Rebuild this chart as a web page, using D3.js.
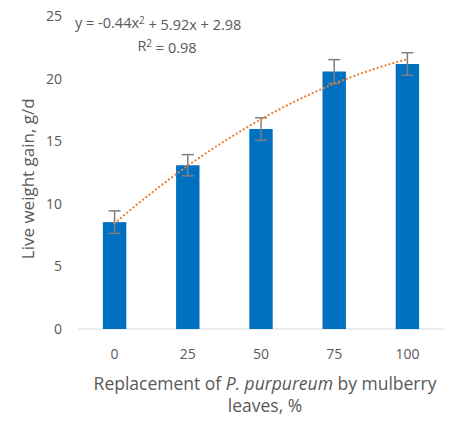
<!DOCTYPE html>
<html>
<head>
<meta charset="utf-8">
<script src="https://cdn.jsdelivr.net/npm/d3@7"></script>
<style>
  body { margin: 0; background: #fff; }
  text { font-family: "Open Sans", Lato, sans-serif; fill: #595959; }
</style>
</head>
<body>
<script>
(function(){

    //chart data
    var categories = ["0", "25", "50", "75", "100"];
    var gainValues = [8.55, 13.1, 16.0, 20.6, 21.2];
    var gainErrors = [0.9, 0.85, 0.9, 0.95, 0.9];
    var yTicks = [0, 5, 10, 15, 20, 25];
    //polynomial trendline coefficients shown on the chart (a*x^2 + b*x + c)
    var trendCoef = [-0.44, 5.92, 2.98];

    var width = 452, height = 421;
    var margin = {top: 16, right: 8, bottom: 92, left: 78};

    var svg = d3.select("body")
        .append("svg")
        .attr("width", width)
        .attr("height", height);

    //scales
    var x = d3.scaleBand()
        .domain(categories)
        .range([margin.left, width - margin.right])
        .paddingInner(0.68)
        .paddingOuter(0.34);

    var y = d3.scaleLinear()
        .domain([0, 25])
        .range([height - margin.bottom, margin.top + 0.5]);

    //bottom axis line
    svg.append("line")
        .attr("x1", margin.left)
        .attr("x2", width - margin.right)
        .attr("y1", y(0))
        .attr("y2", y(0))
        .attr("stroke", "#d9d9d9")
        .attr("stroke-width", 1.2);

    //bars
    svg.selectAll(".bar")
        .data(gainValues)
        .enter()
        .append("rect")
        .attr("class", "bar")
        .attr("x", function(d, i){ return x(categories[i]); })
        .attr("width", x.bandwidth())
        .attr("y", function(d){ return y(d); })
        .attr("height", function(d){ return y(0) - y(d); })
        .attr("fill", "#0070c0");

    //error bars
    var errG = svg.append("g")
        .attr("stroke", "#7f7f7f")
        .attr("stroke-width", 1.5);

    gainValues.forEach(function(v, i){
        var cx = x(categories[i]) + x.bandwidth() / 2;
        var e = gainErrors[i];
        errG.append("line")
            .attr("x1", cx).attr("x2", cx)
            .attr("y1", y(v + e)).attr("y2", y(v - e));
        [v + e, v - e].forEach(function(t){
            errG.append("line")
                .attr("x1", cx - 6).attr("x2", cx + 6)
                .attr("y1", y(t)).attr("y2", y(t));
        });
    });

    //trendline, sampled between first and last category
    var trendPts = d3.range(1, 5.001, 0.05).map(function(t){
        var val = trendCoef[0] * t * t + trendCoef[1] * t + trendCoef[2];
        var px = x(categories[0]) + x.bandwidth() / 2 + (t - 1) * x.step();
        return [px, y(val)];
    });

    svg.append("path")
        .datum(trendPts)
        .attr("d", d3.line())
        .attr("fill", "none")
        .attr("stroke", "#ed7d31")
        .attr("stroke-width", 2.2)
        .attr("stroke-linecap", "round")
        .attr("stroke-dasharray", "0.1 4");

    //y tick labels
    svg.selectAll(".ytick")
        .data(yTicks)
        .enter()
        .append("text")
        .attr("class", "ytick")
        .attr("x", 62)
        .attr("y", function(d){ return y(d); })
        .attr("dy", "0.35em")
        .attr("text-anchor", "end")
        .style("font-size", "14px")
        .text(function(d){ return d; });

    //x tick labels
    svg.selectAll(".xtick")
        .data(categories)
        .enter()
        .append("text")
        .attr("class", "xtick")
        .attr("x", function(d){ return x(d) + x.bandwidth() / 2; })
        .attr("y", 354)
        .attr("dy", "0.35em")
        .attr("text-anchor", "middle")
        .style("font-size", "14px")
        .text(function(d){ return d; });

    //x axis title
    var xt = svg.append("text")
        .attr("x", 265)
        .attr("y", 384)
        .attr("dy", "0.35em")
        .attr("text-anchor", "middle")
        .style("font-size", "17.5px");
    xt.append("tspan").text("Replacement of ");
    xt.append("tspan").style("font-style", "italic").text("P. purpureum");
    xt.append("tspan").text(" by mulberry");

    svg.append("text")
        .attr("x", 265)
        .attr("y", 406)
        .attr("dy", "0.35em")
        .attr("text-anchor", "middle")
        .style("font-size", "17.5px")
        .text("leaves, %");

    //y axis title
    svg.append("text")
        .attr("transform", "translate(28," + ((y(0) + y(25)) / 2 + 6) + ") rotate(-90)")
        .attr("dy", "0.35em")
        .attr("text-anchor", "middle")
        .style("font-size", "17px")
        .text("Live weight gain, g/d");

    //trendline equation
    var eq = svg.append("text")
        .attr("x", 75)
        .attr("y", 23)
        .attr("dy", "0.35em")
        .style("font-size", "14.5px");
    eq.append("tspan").text("y = -0.44x");
    eq.append("tspan").attr("dy", "-0.4em").style("font-size", "10px").text("2");
    eq.append("tspan").attr("dy", "0.4em").text(" + 5.92x  + 2.98");

    var r2 = svg.append("text")
        .attr("x", 167)
        .attr("y", 46)
        .attr("dy", "0.35em")
        .attr("text-anchor", "middle")
        .style("font-size", "14.5px");
    r2.append("tspan").text("R");
    r2.append("tspan").attr("dy", "-0.4em").style("font-size", "10px").text("2");
    r2.append("tspan").attr("dy", "0.4em").text(" = 0.98");

})();
</script>
</body>
</html>
